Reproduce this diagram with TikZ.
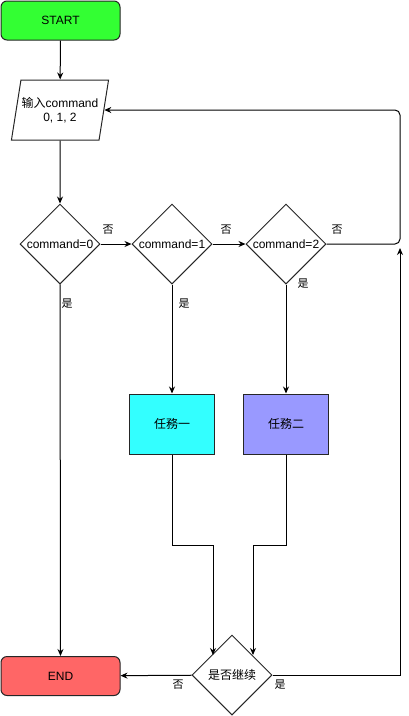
\documentclass[tikz,border=0pt]{standalone}
\usepackage{fontspec}
\setmainfont{Liberation Sans}
\newfontfamily\cjk{Noto Sans CJK SC}
\usetikzlibrary{shapes.geometric,arrows.meta}
\definecolor{startgreen}{HTML}{33FF33}
\definecolor{endred}{HTML}{FF6666}
\definecolor{taskcyan}{HTML}{33FFFF}
\definecolor{taskblue}{HTML}{9999FF}
\tikzset{
  base/.style={draw=black!85, line width=1pt, font=\fontsize{12}{14}\selectfont, align=center, inner sep=0pt},
  terminal/.style={base, rounded corners=6pt, minimum width=119pt, minimum height=39pt},
  decision/.style={base, diamond, aspect=1, minimum width=80pt, minimum height=80pt, fill=white},
  taskbox/.style={base, rectangle, minimum width=85pt, minimum height=60pt},
  iobox/.style={base, trapezium, trapezium left angle=70, trapezium right angle=110,
    trapezium stretches=true, minimum width=98pt, minimum height=60pt},
  flow/.style={line width=1pt, -{Stealth[length=7pt,width=6pt]}},
  lbl/.style={font=\cjk\fontsize{11}{13}\selectfont, inner sep=0pt}
}
\begin{document}
\begin{tikzpicture}[x=1pt,y=-1pt]
\useasboundingbox (0,0) rectangle (408,716);

% nodes
\node[terminal, fill=startgreen] (start) at (60.5,20.5) {START};
\node[iobox] (input) at (60,110) {{\cjk 输入}command\\0, 1, 2};
\node[decision] (c0) at (60,244) {command=0};
\node[decision] (c1) at (172,244) {command=1};
\node[decision] (c2) at (286,244) {command=2};
\node[taskbox, fill=taskcyan] (t1) at (172,424) {\cjk 任務一};
\node[taskbox, fill=taskblue] (t2) at (286,424) {\cjk 任務二};
\node[decision, font=\cjk\fontsize{12}{14}\selectfont] (cont) at (232,675) {是否继续};
\node[terminal, fill=endred] (end) at (60.5,676) {END};
\coordinate (loopin) at (400,248);

% connectors
\draw[flow] (start) -- (input);
\draw[flow] (input) -- (c0);
\draw[flow] (c0) -- (c1);
\draw[flow] (c1) -- (c2);
\draw[flow, rounded corners=5pt] (c2.east) -- (400,244) -- (400,110) -- (input.east);
\draw[flow] (c0) -- (end);
\draw[flow] (c1) -- (t1);
\draw[flow] (c2) -- (t2);
\draw[flow] (t1.south) -- (172,545) -- (213,545) -- (213,655);
\draw[flow] (t2.south) -- (286,545) -- (253,545) -- (253,655);
\draw[flow] (cont) -- (end);
\draw[flow] (cont.east) -- (400,675) -- (loopin);

% branch labels
\node[lbl] at (108,230) {否};
\node[lbl] at (226,230) {否};
\node[lbl] at (337,230) {否};
\node[lbl] at (67,304) {是};
\node[lbl] at (184,304) {是};
\node[lbl] at (303,284) {是};
\node[lbl] at (178,685) {否};
\node[lbl] at (280,685) {是};
\end{tikzpicture}
\end{document}
